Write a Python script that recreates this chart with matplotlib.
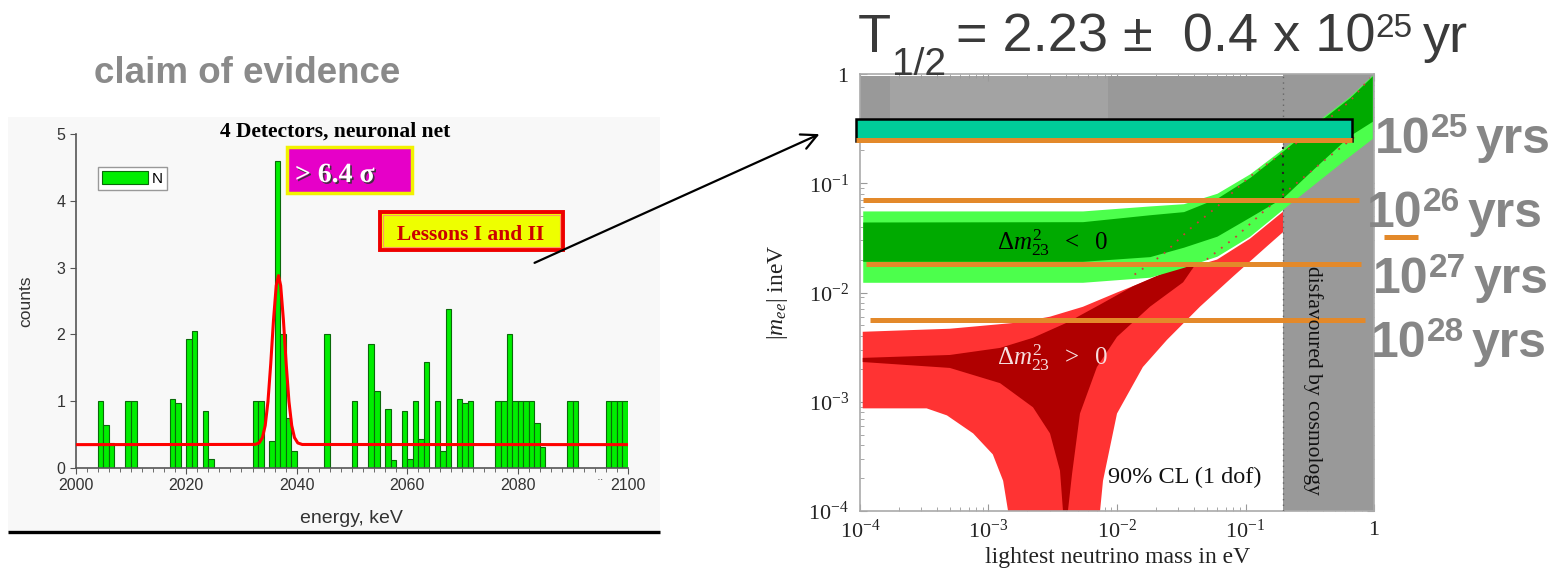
import numpy as np
import matplotlib.pyplot as plt
from matplotlib.patches import Rectangle
from matplotlib import patheffects as pe
from matplotlib.ticker import FixedLocator, LogLocator, NullFormatter, MultipleLocator

plt.rcParams['font.family'] = ['Liberation Sans', 'DejaVu Sans']
plt.rcParams['mathtext.fontset'] = 'custom'
plt.rcParams['mathtext.rm'] = 'Liberation Serif'
plt.rcParams['mathtext.it'] = 'Liberation Serif:italic'
plt.rcParams['mathtext.sf'] = 'Liberation Sans'
plt.rcParams['mathtext.bf'] = 'Liberation Sans:bold'

# -----------------------------
# Left panel: spectrum (counts per 1 keV bin)
# -----------------------------
bin_left = [2004, 2005, 2006, 2009, 2010, 2017, 2018, 2020, 2021, 2023, 2024,
            2032, 2033, 2035, 2036, 2037, 2038, 2039, 2045, 2050, 2053, 2054,
            2056, 2057, 2059, 2060, 2061, 2062, 2063, 2065, 2066, 2067, 2069,
            2070, 2071, 2076, 2077, 2078, 2079, 2080, 2081, 2082, 2083, 2084,
            2089, 2090, 2096, 2097, 2098, 2099]
counts = [1.0, 0.64, 0.38, 1.0, 1.0, 1.04, 0.97, 1.93, 2.05, 0.86, 0.14,
          1.0, 1.0, 0.41, 4.6, 2.0, 0.75, 0.25, 2.0, 1.0, 1.85, 1.15,
          0.88, 0.12, 0.86, 0.14, 1.0, 0.43, 1.58, 1.0, 0.25, 2.38, 1.04,
          0.97, 1.0, 1.0, 1.0, 2.0, 1.0, 1.0, 1.0, 1.0, 0.68, 0.32,
          1.0, 1.0, 1.0, 1.0, 1.0, 1.0]

# fitted line
fit_x = [2000, 2032.5, 2033.2, 2033.8, 2034.3, 2034.8, 2035.3, 2035.8, 2036.3,
         2036.7, 2037.1, 2037.6, 2038.1, 2038.6, 2039.1, 2039.6, 2040.2, 2041.0, 2100]
fit_y = [0.35, 0.353, 0.375, 0.455, 0.636, 0.996, 1.557, 2.213, 2.731,
         2.88, 2.731, 2.213, 1.557, 0.996, 0.636, 0.455, 0.375, 0.352, 0.35]

# -----------------------------
# Right panel: |m_ee| vs lightest neutrino mass
# -----------------------------
ih_x = [1.05e-4, 5.4e-3, 0.018, 0.033, 0.06, 0.108, 0.196, 0.36, 0.65, 0.97]
ih_outer_hi = [0.0558, 0.0558, 0.062, 0.065, 0.081, 0.122, 0.208, 0.369, 0.627, 0.979]
ih_inner_hi = [0.0442, 0.0445, 0.0515, 0.055, 0.073, 0.113, 0.198, 0.355, 0.61, 0.96]
ih_inner_lo = [0.0193, 0.0193, 0.0213, 0.026, 0.0328, 0.049, 0.074, 0.145, 0.274, 0.369]
ih_outer_lo = [0.0124, 0.0124, 0.0138, 0.017, 0.0215, 0.0328, 0.0582, 0.103, 0.179, 0.257]

nh_outer_x = [1.05e-4, 5e-4, 1.67e-3, 3.0e-3, 5.43e-3, 0.01, 0.0181, 0.06, 0.108, 0.2,
              0.196, 0.147, 0.08, 0.0443, 0.0245, 0.0159, 0.01, 7.78e-3, 7.38e-3,
              1.42e-3, 1.3e-3, 1.08e-3, 7.6e-4, 4.75e-4, 3.3e-4, 1.05e-4]
nh_outer_y = [0.00437, 0.00466, 0.0053, 0.006, 0.0074, 0.01, 0.0132, 0.02, 0.031, 0.056,
              0.0357, 0.0265, 0.014, 0.00743, 0.00369, 0.00208, 0.00078, 0.000189, 1e-4,
              1e-4, 0.000189, 0.00033, 0.000513, 0.00075, 0.00087, 0.00087]

nh_inner_x = [1.05e-4, 5e-4, 1.23e-3, 2.22e-3, 4.08e-3, 7.38e-3, 0.0133, 0.0245, 0.042,
              0.0327, 0.0181, 0.01, 6.98e-3, 5.15e-3, 4.47e-3, 4.15e-3,
              3.8e-3, 3.6e-3, 3.01e-3, 2.22e-3, 1.23e-3, 5e-4, 1.05e-4]
nh_inner_y = [0.00252, 0.00268, 0.00311, 0.00385, 0.0053, 0.00775, 0.0114, 0.0156, 0.019,
              0.0124, 0.00743, 0.00393, 0.00208, 0.00078, 0.000219, 1e-4,
              1e-4, 0.000234, 0.000513, 0.00089, 0.00148, 0.00204, 0.00231]

dot1_x = [0.0137, 0.0228, 0.0368, 0.06, 0.108, 0.196, 0.36, 0.65, 0.93]
dot1_y = [0.0146, 0.0223, 0.0381, 0.0608, 0.115, 0.19, 0.318, 0.563, 0.918]
dot2_x = [0.05, 0.0855, 0.137, 0.22, 0.40, 0.73]
dot2_y = [0.0201, 0.0328, 0.0546, 0.0887, 0.158, 0.274]

cosmo_limit = 0.196
top_band = (0.39, 0.96)

# half-life sensitivity lines (y) and their x extent
t_half_labels = ["25", "26", "27", "28"]
t_half_y = [0.249, 0.071, 0.0182, 0.0056]
t_half_x0 = [9.3e-5, 1.05e-4, 1.11e-4, 1.2e-4]
t_half_x1 = [0.675, 0.764, 0.793, 0.851]
claim_box = (9.3e-5, 0.675, 0.245, 0.39)

xtick_vals = [1e-4, 1e-3, 1e-2, 1e-1, 1]
xtick_labels = [r"$10^{-4}$", r"$10^{-3}$", r"$10^{-2}$", r"$10^{-1}$", r"$1$"]
ytick_vals = [1e-4, 1e-3, 1e-2, 1e-1, 1]
ytick_labels = [r"$10^{-4}$", r"$10^{-3}$", r"$10^{-2}$", r"$10^{-1}$", r"$1$"]

orange = '#e3892a'
W, H = 1562, 571

fig = plt.figure(figsize=(W / 100, H / 100), dpi=100)

# background for the left slide picture
bg = fig.add_axes([0, 0, 1, 1], zorder=-5)
bg.set_xlim(0, W)
bg.set_ylim(H, 0)
bg.axis('off')
bg.add_patch(Rectangle((8, 117), 652, 415, facecolor='#f8f8f8', edgecolor='none'))
bg.plot([8, 660], [532, 532], color='black', lw=2.4, solid_capstyle='butt')

# -----------------------------
# Left axes
# -----------------------------
ax1 = fig.add_axes([75.8 / W, 1 - 468 / H, 552.2 / W, 334 / H])
ax1.patch.set_alpha(0)
ax1.bar(bin_left, counts, width=1, align='edge', color='#00ee00',
        edgecolor='#0a6a0a', lw=0.8, label='N', zorder=2)
ax1.plot(fit_x, fit_y, color='#ff0000', lw=2.2, zorder=3)
ax1.set_xlim(2000, 2100)
ax1.set_ylim(0, 5)
for s in ['top', 'right']:
    ax1.spines[s].set_visible(False)
for s in ['left', 'bottom']:
    ax1.spines[s].set_color('#555555')
    ax1.spines[s].set_linewidth(1.2)
ax1.xaxis.set_major_locator(MultipleLocator(20))
ax1.xaxis.set_minor_locator(MultipleLocator(2))
ax1.yaxis.set_major_locator(MultipleLocator(1))
ax1.tick_params(which='both', direction='out', colors='#555555', labelcolor='#333333',
                labelsize=11.5)
ax1.tick_params(which='major', length=4)
ax1.tick_params(which='minor', length=3)
ax1.set_ylabel('counts', fontsize=12.5, color='#333333')
ax1.yaxis.set_label_coords(-0.077, 0.5)
ax1.set_xlabel('energy, keV', fontsize=14, color='#333333')
ax1.xaxis.set_label_coords(0.5, -0.125)
ax1.legend(loc='upper left', bbox_to_anchor=(98 / W, 1 - 167 / H),
           bbox_transform=fig.transFigure, handlelength=3.0, handleheight=1.0,
           fontsize=11, fancybox=False, edgecolor='#999999', framealpha=1,
           borderpad=0.25, handletextpad=0.3, borderaxespad=0)

# -----------------------------
# Right axes
# -----------------------------
ax2 = fig.add_axes([860 / W, 1 - 511 / H, 514 / W, 437 / H])
ax2.set_xscale('log')
ax2.set_yscale('log')
ax2.set_xlim(1e-4, 1)
ax2.set_ylim(1e-4, 1)

ax2.fill_between([1e-4, 1], top_band[0], top_band[1], color='#999999', lw=0, zorder=1)
ax2.fill_between([1.7e-4, 8.5e-3], top_band[0], top_band[1], color='#a3a3a3', lw=0, zorder=1.1)

ax2.fill(nh_outer_x, nh_outer_y, color='#ff3333', lw=0, zorder=2)
ax2.fill(nh_inner_x, nh_inner_y, color='#b00000', lw=0, zorder=2.1)

ax2.axvspan(cosmo_limit, 1, color='#999999', lw=0, zorder=2.5)
ax2.axvline(cosmo_limit, color='#666666', lw=1, ls=(0, (1, 3)), zorder=2.6)

ax2.fill_between(ih_x, ih_outer_lo, ih_outer_hi, color='#4cff4c', lw=0, zorder=3)
ax2.fill_between(ih_x, ih_inner_lo, ih_inner_hi, color='#00aa00', lw=0, zorder=3.1)
ax2.plot(dot1_x, dot1_y, color='#cc3b3b', lw=1.3, ls=(0, (1, 4)), zorder=3.5)
ax2.plot(dot2_x, dot2_y, color='#cc3b3b', lw=1.3, ls=(0, (1, 4)), zorder=3.5)
ax2.plot([cosmo_limit, cosmo_limit], [0.072, 0.22], color='#222222', lw=1.5,
         ls=(0, (1, 3)), zorder=3.6)

ax2.add_patch(Rectangle((claim_box[0], claim_box[2]), claim_box[1] - claim_box[0],
                        claim_box[3] - claim_box[2], facecolor='#00cc99',
                        edgecolor='black', lw=1.8, clip_on=False, zorder=5))
for y, x0, x1 in zip(t_half_y, t_half_x0, t_half_x1):
    ax2.plot([x0, x1], [y, y], color=orange, lw=3.6, solid_capstyle='butt',
             clip_on=False, zorder=6)
ax2.plot([1.2, 2.2], [0.0321, 0.0321], color=orange, lw=3.6, solid_capstyle='butt',
         clip_on=False, zorder=6)

ax2.xaxis.set_major_locator(FixedLocator(xtick_vals))
ax2.set_xticklabels(xtick_labels)
ax2.yaxis.set_major_locator(FixedLocator(ytick_vals))
ax2.set_yticklabels(ytick_labels)
ax2.xaxis.set_minor_locator(LogLocator(base=10, subs=np.arange(2, 10)))
ax2.yaxis.set_minor_locator(LogLocator(base=10, subs=np.arange(2, 10)))
ax2.xaxis.set_minor_formatter(NullFormatter())
ax2.yaxis.set_minor_formatter(NullFormatter())
ax2.tick_params(which='both', direction='in', top=True, right=True,
                colors='#999999', labelcolor='#222222', labelsize=16)
ax2.tick_params(which='major', length=5)
ax2.tick_params(which='minor', length=3)
ax2.tick_params(axis='y', pad=8)
ax2.tick_params(axis='x', pad=6)
for s in ax2.spines.values():
    s.set_color('#aaaaaa')
    s.set_linewidth(1.2)

# -----------------------------
# Texts and annotations (pixel coordinates)
# -----------------------------
ov = fig.add_axes([0, 0, 1, 1], zorder=10)
ov.set_xlim(0, W)
ov.set_ylim(H, 0)
ov.axis('off')
renderer = fig.canvas.get_renderer()


def chain(x, y, pieces, **kw):
    # pieces: (text, fontsize, baseline shift in px, gap after in px)
    for s, size, dy, gap in pieces:
        t = ov.text(x, y + dy, s, fontsize=size, va='baseline', **kw)
        bb = t.get_window_extent(renderer)
        x = ov.transData.inverted().transform((bb.x1, bb.y0))[0] + gap


ov.text(94, 83, 'claim of evidence', fontsize=26.5, fontweight='bold',
        color='#8a8a8a', va='baseline')
ov.text(335, 137, '4 Detectors, neuronal net', fontsize=15.5, fontweight='bold',
        family='Liberation Serif', ha='center', va='baseline')

ov.add_patch(Rectangle((287, 147), 125, 46, facecolor='#e600c8', edgecolor='#f2f200', lw=2.5))
ov.text(295, 182, '> 6.4 σ', fontsize=20, fontweight='bold', family='Liberation Serif',
        color='white', va='baseline',
        path_effects=[pe.withSimplePatchShadow(offset=(1.2, -1.2), shadow_rgbFace='#333333', alpha=0.9)])

ov.add_patch(Rectangle((380, 212), 183, 38, facecolor='#eeff00', edgecolor='#ee0000', lw=2.8))
ov.add_patch(Rectangle((383, 215), 177, 32, facecolor='none', edgecolor='#ff9966', lw=0.8))
ov.text(471, 240, 'Lessons I and II', fontsize=15.5, fontweight='bold', family='Liberation Serif',
        color='#cc0000', ha='center', va='baseline')

ov.text(600, 483, '··', fontsize=8, color='#333333', ha='center', va='baseline')

ov.annotate('', xy=(822, 133), xytext=(532, 264),
            arrowprops=dict(arrowstyle='->', lw=1.6, color='black', mutation_scale=28))

chain(858, 52, [('T', 39, 0, 1), ('1/2', 28, 23, 10),
                ('= 2.23 ±  0.4 x 10', 39, 0, 0), ('25', 24, -15, 10), ('yr', 39, 0, 0)],
      color='#3a3a3a')

for lab, x, y in zip(t_half_labels, [1375, 1367, 1373, 1371], [153, 227, 293, 357]):
    chain(x, y, [('10', 36, 0, 0), (lab, 24, -16, 8), ('yrs', 36, 0, 0)],
          fontweight='bold', color='#868686')

ov.text(1053, 243, r'$\Delta m^2_{23}\ \ <\ \ 0$', fontsize=18, color='black',
        ha='center', va='center')
ov.text(1053, 358, r'$\Delta m^2_{23}\ \ >\ \ 0$', fontsize=18, color='#f6dede',
        ha='center', va='center')
ov.text(1108, 477, '90% CL (1 dof)', fontsize=17.5, family='Liberation Serif',
        color='#111111', ha='left', va='center')
ov.text(1313, 380, 'disfavoured by cosmology', fontsize=15.5, family='Liberation Serif',
        color='#111111', rotation=-90, ha='center', va='center')
ov.text(1118, 557, 'lightest neutrino mass in eV', fontsize=17, family='Liberation Serif',
        color='#222222', ha='center', va='center')
ov.text(778, 292, r'$|m_{ee}|$ ineV', fontsize=17, family='Liberation Serif',
        color='#222222', rotation=90, ha='center', va='center')

fig.savefig('out.png', dpi=100)
